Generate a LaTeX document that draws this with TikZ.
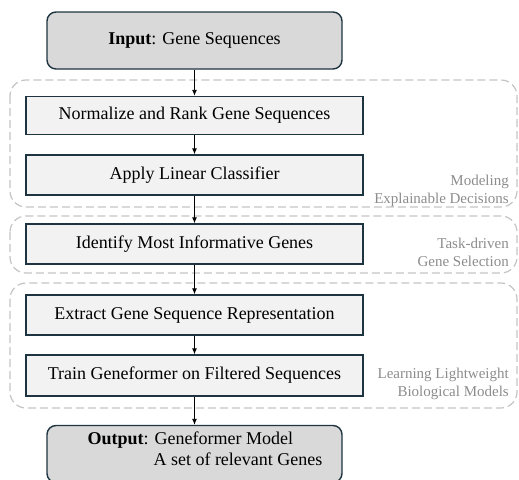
\documentclass[tikz,border=0pt]{standalone}
\usepackage{fontspec}
\setmainfont{Liberation Serif}
\usetikzlibrary{arrows.meta}
\definecolor{bordc}{HTML}{1E3440}
\definecolor{stepfill}{HTML}{F2F2F2}
\definecolor{iofill}{HTML}{D9D9D9}
\definecolor{dashc}{HTML}{C4C4C4}
\definecolor{labc}{HTML}{8C8C8C}
\tikzset{
  stepbox/.style={draw=bordc, line width=1.4pt, fill=stepfill, minimum width=337pt, inner sep=0pt,
    font=\fontsize{18}{21}\selectfont},
  iobox/.style={draw=bordc, line width=1.4pt, fill=iofill, rounded corners=9pt, minimum width=295pt,
    minimum height=57pt, inner sep=0pt, font=\fontsize{18}{21}\selectfont},
  grp/.style={draw=dashc, line width=1.2pt, dash pattern=on 8pt off 4pt, rounded corners=16pt},
  grplab/.style={anchor=east, align=right, text=labc, inner sep=0pt, font=\fontsize{15}{18}\selectfont},
  conn/.style={draw=black, line width=0.9pt, -{Latex[length=6pt,width=5pt]}}
}
\begin{document}
\begin{tikzpicture}[x=1pt,y=-1pt]
\useasboundingbox (0,0) rectangle (519,479);
% groups
\draw[grp] (10,80) rectangle (517,207);
\draw[grp] (10,216) rectangle (517,273);
\draw[grp] (10,283) rectangle (517,408);
% boxes
\node[iobox] (in) at (194.5,40.5) {\textbf{Input}: Gene Sequences};
\node[stepbox, minimum height=38pt] (norm) at (194.5,115.5) {Normalize and Rank Gene Sequences};
\node[stepbox, minimum height=40pt] (apply) at (194.5,175) {Apply Linear Classifier};
\node[stepbox, minimum height=40pt] (ident) at (194.5,244) {Identify Most Informative Genes};
\node[stepbox, minimum height=40pt] (extr) at (194.5,315) {Extract Gene Sequence Representation};
\node[stepbox, minimum height=41pt] (train) at (194.5,375.5) {Train Geneformer on Filtered Sequences};
\node[iobox, align=left] (out) at (194.5,454) {\hspace*{21pt}\textbf{Output}: Geneformer Model\\\hspace*{87pt}A set of relevant Genes\rule[-11pt]{0pt}{0pt}};
% labels
\node[grplab] (l1) at (509,190.5) {Modeling\\Explainable Decisions};
\node[grplab] (l2) at (509,252) {Task-driven\\Gene Selection};
\node[grplab] (l3) at (509,384) {Learning Lightweight\\Biological Models};
% connectors
\draw[conn] (in) -- (norm);
\draw[conn] (norm) -- (apply);
\draw[conn] (apply) -- (ident);
\draw[conn] (ident) -- (extr);
\draw[conn] (extr) -- (train);
\draw[conn] (train) -- (out);
\end{tikzpicture}
\end{document}
